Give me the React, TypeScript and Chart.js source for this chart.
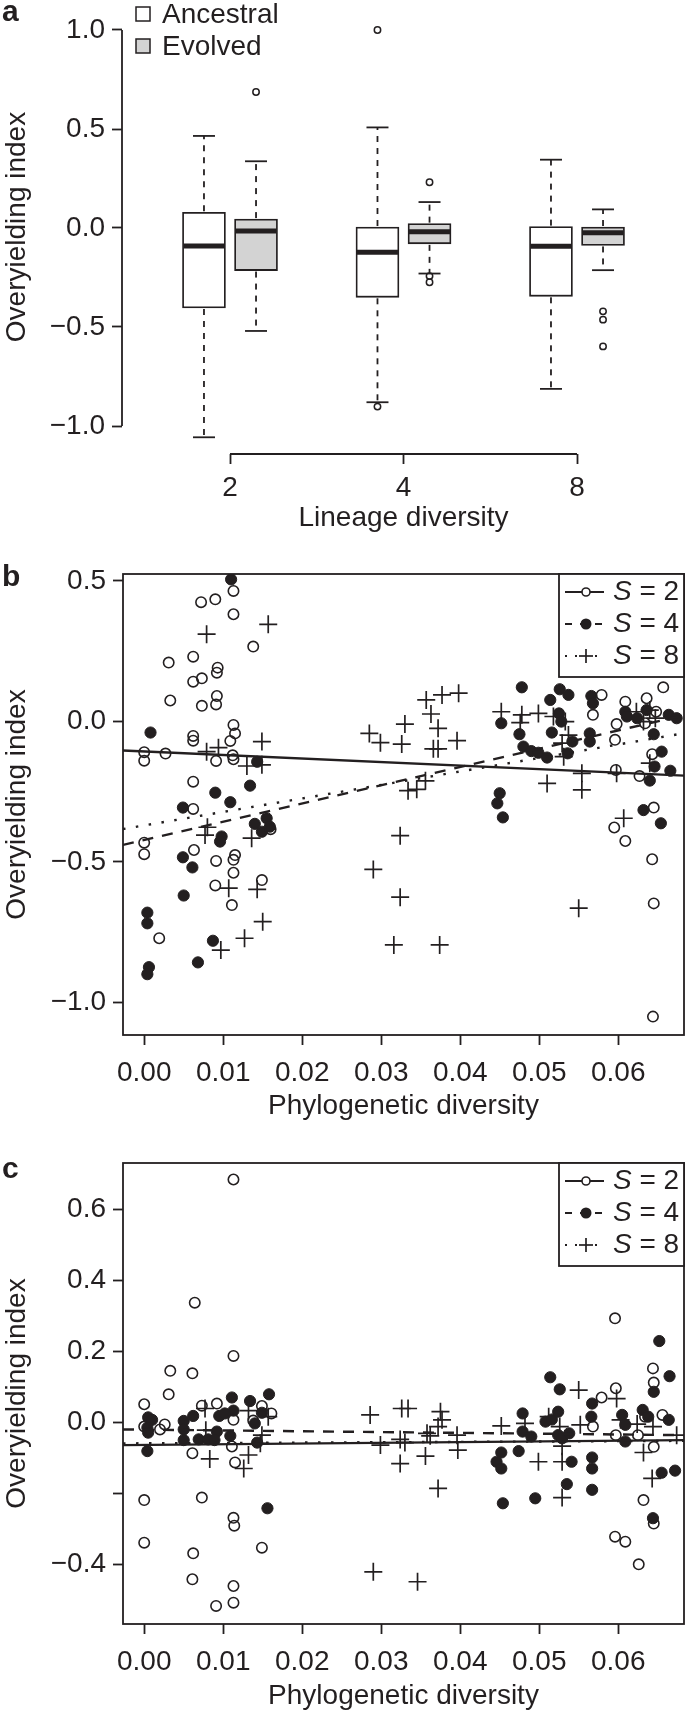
import React, { useEffect, useRef } from "react";
import { Chart, registerables } from "chart.js";

Chart.register(...registerables);

const FONT_FAMILY = '"Liberation Sans", Arial, Helvetica, sans-serif';
const INK = "#231f20";
const EVOLVED_FILL = "#d3d3d3";
const W = 685;

// ---------------- Panel a : box plots ----------------
const lineageLabels = ["2", "4", "8"];
const seriesNames = ["Ancestral", "Evolved"];
const ancestralWhiskerLow = [-1.057, -0.88, -0.8125];
const ancestralQ1 = [-0.404, -0.35, -0.345];
const ancestralMedian = [-0.091, -0.122, -0.092];
const ancestralQ3 = [0.079, 0.005, 0.007];
const ancestralWhiskerHigh = [0.465, 0.508, 0.345];
const ancestralOutliers = [[], [1.0, -0.902], []];
const evolvedWhiskerLow = [-0.52, -0.23, -0.213];
const evolvedQ1 = [-0.215, -0.08, -0.088];
const evolvedMedian = [-0.015, -0.019, -0.024];
const evolvedQ3 = [0.045, 0.022, 0.005];
const evolvedWhiskerHigh = [0.337, 0.131, 0.094];
const evolvedOutliers = [[0.687], [0.231, -0.243, -0.274], [-0.421, -0.463, -0.598]];
const aYTicks = [-1, -0.5, 0, 0.5, 1];
const aYTickLabels = ["\u22121.0", "\u22120.5", "0.0", "0.5", "1.0"];

// ---------------- Panel b : phylogenetic diversity (ancestral) ----------------
const pdTicks = [0, 0.01, 0.02, 0.03, 0.04, 0.05, 0.06];
const pdTickLabels = ["0.00", "0.01", "0.02", "0.03", "0.04", "0.05", "0.06"];
const richnessLabels = ["2", "4", "8"];

const bS2 = [
  [0.0072, 0.424], [0.009, 0.434], [0.0113, 0.464], [0.0113, 0.381], [0.0138, 0.266], [0.0031, 0.209],
  [0.0062, 0.23], [0.0093, 0.191], [0.0092, 0.173], [0.0073, 0.153], [0.0062, 0.141], [0.0033, 0.074],
  [0.0092, 0.09], [0.0073, 0.055], [0.0091, 0.06], [0.0113, -0.013], [0.0115, -0.043], [0.0062, -0.052],
  [0.0062, -0.069], [0.0109, -0.07], [0.0, -0.11], [0.0, -0.14], [0.0027, -0.115], [0.0091, -0.141],
  [0.0112, -0.121], [0.0113, -0.135], [0.0062, -0.215], [0.0062, -0.312], [0.0, -0.432], [0.0, -0.473],
  [0.0063, -0.458], [0.0091, -0.497], [0.0115, -0.476], [0.0113, -0.493], [0.0113, -0.539], [0.009, -0.584],
  [0.0149, -0.565], [0.0111, -0.654], [0.0019, -0.772], [0.016, -0.384],
  [0.0657, 0.121], [0.0579, 0.094], [0.0568, 0.023], [0.0609, 0.07], [0.0636, 0.082], [0.0598, -0.01],
  [0.0596, -0.066], [0.0634, -0.007], [0.0648, 0.034], [0.0643, -0.117], [0.0597, -0.173], [0.0627, -0.195],
  [0.0645, -0.307], [0.0595, -0.378], [0.0609, -0.426], [0.0643, -0.491], [0.0645, -0.648], [0.0644, -1.051],
];
const bS4 = [
  [0.011, 0.505], [0.0008, -0.04], [0.0143, -0.144], [0.0134, -0.229], [0.009, -0.254], [0.0109, -0.288],
  [0.0049, -0.307], [0.014, -0.365], [0.0155, -0.345], [0.0149, -0.393], [0.0159, -0.375], [0.0098, -0.41],
  [0.0096, -0.428], [0.0049, -0.484], [0.0061, -0.52], [0.005, -0.62], [0.0004, -0.681], [0.0004, -0.719],
  [0.0087, -0.781], [0.0068, -0.858], [0.0006, -0.875], [0.0004, -0.9],
  [0.0478, 0.121], [0.0452, -0.007], [0.0475, -0.046], [0.048, -0.09], [0.049, -0.106], [0.0499, -0.112],
  [0.051, -0.129], [0.0514, 0.076], [0.0526, 0.114], [0.0537, 0.094], [0.0525, 0.028], [0.0528, -0.001],
  [0.0516, -0.04], [0.0536, -0.114], [0.0542, -0.072], [0.0566, 0.09], [0.0568, 0.064], [0.0564, -0.043],
  [0.0564, -0.072], [0.0609, 0.034], [0.0611, 0.017], [0.0624, 0.011], [0.0636, 0.04], [0.0645, -0.046],
  [0.0655, -0.108], [0.0664, 0.023], [0.0674, 0.011], [0.0646, -0.161], [0.0666, -0.176], [0.064, -0.211],
  [0.0632, -0.316], [0.0654, -0.363], [0.045, -0.256], [0.0447, -0.292], [0.0454, -0.342],
];
const bS8 = [
  [0.0079, 0.31], [0.0157, 0.345], [0.0094, -0.094], [0.0079, -0.108], [0.0149, -0.072], [0.013, -0.159],
  [0.0149, -0.155], [0.008, -0.377], [0.0077, -0.405], [0.0136, -0.416], [0.0107, -0.594], [0.0143, -0.598],
  [0.015, -0.713], [0.0127, -0.772], [0.0097, -0.814],
  [0.0285, -0.043], [0.0299, -0.076], [0.0326, -0.081], [0.033, -0.01], [0.0357, 0.076], [0.0377, 0.094],
  [0.0398, 0.1], [0.0363, 0.026], [0.0372, -0.025], [0.0396, -0.069], [0.0366, -0.098], [0.0372, -0.098],
  [0.0334, -0.247], [0.0345, -0.242], [0.0356, -0.212], [0.0324, -0.407], [0.029, -0.527], [0.0324, -0.626],
  [0.0316, -0.796], [0.0374, -0.796],
  [0.0452, 0.034], [0.0478, 0.023], [0.0476, -0.005], [0.0499, 0.028], [0.0518, 0.017], [0.0533, -0.001],
  [0.0537, -0.049], [0.0529, -0.078], [0.0531, -0.126], [0.051, -0.221], [0.0554, -0.185], [0.0554, -0.244],
  [0.0598, -0.185], [0.0607, -0.345], [0.055, -0.665], [0.0623, 0.034], [0.064, 0.04], [0.0647, 0.011],
  [0.064, -0.149], [0.0632, -0.001],
];
const bFitIntercept = [-0.1074, -0.4225, -0.3705];
const bFitSlope = [-1.26, 6.5, 4.8];
const bYTicks = [-1, -0.5, 0, 0.5];
const bYTickLabels = ["\u22121.0", "\u22120.5", "0.0", "0.5"];

// ---------------- Panel c : phylogenetic diversity (evolved) ----------------
const cS2 = [
  [0.0113, 0.685], [0.0064, 0.338], [0.0113, 0.188], [0.0033, 0.146], [0.0061, 0.139], [0.0031, 0.08],
  [0.0, 0.052], [0.0073, 0.048], [0.0092, 0.054], [0.0149, 0.047], [0.0161, 0.026], [0.0026, -0.005],
  [0.002, -0.019], [0.0, -0.011], [0.0113, 0.008], [0.0138, 0.006], [0.0111, -0.067], [0.0061, -0.086],
  [0.0115, -0.112], [0.0073, -0.211], [0.0, -0.218], [0.0113, -0.268], [0.0114, -0.29], [0.0, -0.338],
  [0.0149, -0.352], [0.0062, -0.368], [0.0061, -0.441], [0.0113, -0.46], [0.0091, -0.516], [0.0113, -0.507],
  [0.0596, 0.294], [0.0597, 0.097], [0.0644, 0.153], [0.0645, 0.113], [0.0579, 0.071], [0.0568, -0.011],
  [0.0597, -0.035], [0.0625, -0.035], [0.0656, 0.022], [0.0634, 0.017], [0.0645, -0.068], [0.0632, -0.218],
  [0.0645, -0.284], [0.0596, -0.321], [0.0609, -0.335], [0.0626, -0.399],
];
const cS4 = [
  [0.0005, 0.015], [0.001, 0.008], [0.0004, -0.014], [0.0005, -0.028], [0.0004, -0.08], [0.005, 0.005],
  [0.0062, 0.019], [0.005, -0.019], [0.005, -0.049], [0.0069, -0.047], [0.0081, -0.047], [0.0092, -0.025],
  [0.0095, 0.019], [0.0089, -0.049], [0.0111, 0.071], [0.0113, 0.034], [0.0109, -0.037], [0.0102, 0.026],
  [0.0134, 0.061], [0.0158, 0.08], [0.0149, 0.028], [0.014, -0.002], [0.0143, -0.056], [0.0156, -0.241],
  [0.0452, -0.084], [0.0446, -0.11], [0.0452, -0.129], [0.0454, -0.227], [0.0474, -0.08], [0.0479, 0.026],
  [0.0479, -0.025], [0.049, -0.039], [0.0495, -0.213], [0.0514, 0.128], [0.0526, 0.094], [0.0508, 0.003],
  [0.0516, 0.009], [0.0524, 0.031], [0.0524, -0.035], [0.0529, -0.044], [0.0538, -0.03], [0.0541, -0.11],
  [0.0535, -0.173], [0.0567, 0.054], [0.0566, 0.017], [0.0567, -0.098], [0.0567, -0.129], [0.0567, -0.189],
  [0.0605, 0.022], [0.0609, -0.006], [0.0609, -0.053], [0.0631, 0.036], [0.0638, 0.017], [0.0645, 0.087],
  [0.0652, 0.23], [0.0665, 0.131], [0.0664, 0.008], [0.0655, -0.141], [0.0672, -0.135], [0.0644, -0.269],
];
const cS8 = [
  [0.0077, 0.04], [0.0078, -0.021], [0.0083, -0.102], [0.0132, 0.034], [0.0149, -0.035], [0.0132, -0.091],
  [0.0126, -0.129], [0.0157, 0.017], [0.0147, -0.058],
  [0.0286, 0.022], [0.0326, 0.04], [0.0334, 0.04], [0.0299, -0.063], [0.0324, -0.047], [0.033, -0.056],
  [0.0324, -0.115], [0.0356, -0.094], [0.0362, -0.037], [0.0358, -0.03], [0.0372, -0.011], [0.0375, 0.031],
  [0.0377, 0.008], [0.0396, -0.035], [0.0397, -0.077], [0.0372, -0.185], [0.029, -0.42], [0.0346, -0.448],
  [0.0452, -0.009], [0.0482, -0.002], [0.0512, 0.017], [0.055, 0.092], [0.0552, -0.006], [0.0526, -0.011],
  [0.0499, -0.11], [0.0529, -0.066], [0.0529, -0.11], [0.0529, -0.211], [0.0598, 0.068], [0.0603, 0.008],
  [0.0624, -0.004], [0.0632, -0.084], [0.0644, -0.011], [0.0643, -0.157], [0.0674, -0.035],
];
const cFitIntercept = [-0.0625, -0.0196, -0.058];
const cFitSlope = [0.198, -0.226, 0.1];
const cYTicks = [-0.4, -0.2, 0, 0.2, 0.4, 0.6];
const cYTickLabels = ["\u22120.4", "", "0.0", "0.2", "0.4", "0.6"];

// ---------------- shared styling ----------------
const tickFont = { family: FONT_FAMILY, size: 28, lineHeight: 1.2 };
const BOX_OFFSET = 0.15;
const BOX_WIDTH = 43;
const CAP_WIDTH = 22;
const LINE_DASHES = [[], [11, 9], [2.5, 10.5]];

Chart.defaults.font.family = FONT_FAMILY;
Chart.defaults.color = INK;

function line(ctx: CanvasRenderingContext2D, x1: number, y1: number, x2: number, y2: number) {
  ctx.beginPath();
  ctx.moveTo(x1, y1);
  ctx.lineTo(x2, y2);
  ctx.stroke();
}

function drawLetter(ctx: CanvasRenderingContext2D, letter: string, baseline: number) {
  ctx.save();
  ctx.fillStyle = INK;
  ctx.font = `bold 30px ${FONT_FAMILY}`;
  ctx.textAlign = "left";
  ctx.textBaseline = "alphabetic";
  ctx.fillText(letter, 2, baseline);
  ctx.restore();
}

// ---------------- Panel a config ----------------
function buildPanelA(): any {
  const H = 540;
  const chartBottom = 454;
  const boxes = [
    { name: seriesNames[0], off: -BOX_OFFSET, fill: "#ffffff", lo: ancestralWhiskerLow, q1: ancestralQ1, med: ancestralMedian, q3: ancestralQ3, hi: ancestralWhiskerHigh, out: ancestralOutliers },
    { name: seriesNames[1], off: BOX_OFFSET, fill: EVOLVED_FILL, lo: evolvedWhiskerLow, q1: evolvedQ1, med: evolvedMedian, q3: evolvedQ3, hi: evolvedWhiskerHigh, out: evolvedOutliers },
  ];
  const outlierPoints: any[] = [];
  boxes.forEach((b) => b.out.forEach((vals, i) => vals.forEach((v) => outlierPoints.push({ x: i + 1 + b.off, y: v }))));

  const extras = {
    id: "boxExtras",
    afterDatasetsDraw(chart: any) {
      const { ctx, scales } = chart;
      const xs = scales.x;
      const ys = scales.y;
      ctx.save();
      ctx.strokeStyle = INK;
      boxes.forEach((b) => {
        lineageLabels.forEach((_, i) => {
          const cx = xs.getPixelForValue(i + 1 + b.off);
          const yHi = ys.getPixelForValue(b.hi[i]);
          const yLo = ys.getPixelForValue(b.lo[i]);
          const yQ1 = ys.getPixelForValue(b.q1[i]);
          const yQ3 = ys.getPixelForValue(b.q3[i]);
          const yMed = ys.getPixelForValue(b.med[i]);
          ctx.lineWidth = 1.8;
          ctx.setLineDash([6, 6]);
          line(ctx, cx, yQ3 - 1, cx, yHi);
          line(ctx, cx, yQ1 + 1, cx, yLo);
          ctx.setLineDash([]);
          line(ctx, cx - CAP_WIDTH / 2, yHi, cx + CAP_WIDTH / 2, yHi);
          line(ctx, cx - CAP_WIDTH / 2, yLo, cx + CAP_WIDTH / 2, yLo);
          ctx.lineWidth = 5;
          ctx.lineCap = "butt";
          line(ctx, cx - BOX_WIDTH / 2 + 1, yMed, cx + BOX_WIDTH / 2 - 1, yMed);
        });
      });
      ctx.restore();
    },
    afterDraw(chart: any) {
      const { ctx, chartArea, scales } = chart;
      const xs = scales.x;
      const ys = scales.y;
      ctx.save();
      ctx.strokeStyle = INK;
      ctx.lineWidth = 1.8;
      // R-style axis lines spanning the tick range only
      line(ctx, chartArea.left, ys.getPixelForValue(aYTicks[aYTicks.length - 1]), chartArea.left, ys.getPixelForValue(aYTicks[0]));
      line(ctx, xs.getPixelForValue(1), chartArea.bottom, xs.getPixelForValue(lineageLabels.length), chartArea.bottom);
      // legend
      ctx.font = `28px ${FONT_FAMILY}`;
      ctx.textBaseline = "middle";
      ctx.textAlign = "left";
      boxes.forEach((b, k) => {
        const cy = 14 + k * 32;
        ctx.fillStyle = b.fill;
        ctx.fillRect(136, cy - 7, 14, 14);
        ctx.lineWidth = 1.5;
        ctx.strokeRect(136, cy - 7, 14, 14);
        ctx.fillStyle = INK;
        ctx.fillText(b.name, 162, cy + 1);
      });
      ctx.restore();
      drawLetter(ctx, "a", 21);
    },
  };

  return {
    type: "bar",
    data: {
      datasets: [
        ...boxes.map((b) => ({
          type: "bar",
          label: b.name,
          data: lineageLabels.map((_, i) => ({ x: i + 1 + b.off, y: [b.q1[i], b.q3[i]] })),
          backgroundColor: b.fill,
          borderColor: INK,
          borderWidth: 1.8,
          borderSkipped: false,
          grouped: false,
          maxBarThickness: BOX_WIDTH,
          barPercentage: 1,
          categoryPercentage: 1,
        })),
        {
          type: "scatter",
          label: "outliers",
          data: outlierPoints,
          pointRadius: 3.2,
          pointBorderWidth: 1.5,
          pointBorderColor: INK,
          pointBackgroundColor: "rgba(0,0,0,0)",
        },
      ],
    },
    options: {
      animation: false,
      responsive: false,
      events: [],
      layout: { padding: { top: 0, left: 0, right: 0, bottom: 0 }, autoPadding: false },
      plugins: { legend: { display: false }, tooltip: { enabled: false } },
      scales: {
        x: {
          type: "linear",
          offset: false,
          min: 0.3775,
          max: 0.3775 + (W - 122) / 173.5,
          bounds: "data",
          afterBuildTicks: (s: any) => { s.ticks = lineageLabels.map((_, i) => ({ value: i + 1 })); },
          ticks: { autoSkip: false, maxRotation: 0, font: tickFont, color: INK, padding: 7, callback: (_v: any, i: number) => lineageLabels[i] },
          grid: { offset: false, drawOnChartArea: false, drawTicks: true, tickLength: 10, tickColor: INK, tickWidth: 1.8, color: INK },
          border: { display: false },
          title: { display: true, text: "Lineage diversity", font: tickFont, color: INK, padding: { top: 0, bottom: 5 } },
          afterFit: (s: any) => { s.height = H - chartBottom; s.paddingLeft = 0; s.paddingRight = 0; },
        },
        y: {
          type: "linear",
          min: -1 - 28 / 198,
          max: -1 - 28 / 198 + chartBottom / 198,
          bounds: "data",
          afterBuildTicks: (s: any) => { s.ticks = aYTicks.map((v) => ({ value: v })); },
          ticks: { autoSkip: false, font: tickFont, color: INK, padding: 7, callback: (_v: any, i: number) => aYTickLabels[i] },
          grid: { drawOnChartArea: false, drawTicks: true, tickLength: 10, tickColor: INK, tickWidth: 1.8, color: INK },
          border: { display: false },
          title: { display: true, text: "Overyielding index", font: tickFont, color: INK, padding: { top: 0, bottom: 0 } },
          afterFit: (s: any) => { s.width = 122; s.paddingTop = 0; s.paddingBottom = 0; },
        },
      },
    },
    plugins: [extras],
  };
}

// ---------------- Panels b / c config ----------------
function buildScatter(p: {
  H: number; padTop: number; chartBottom: number; titlePadBottom: number;
  s2: number[][]; s4: number[][]; s8: number[][];
  intercept: number[]; slope: number[];
  yMin: number; yMax: number; yTicks: number[]; yTickLabels: string[];
  letter: string; letterBaseline: number;
}): any {
  const xMin = (123 - 144.2) / 7900;
  const xMax = (684 - 144.2) / 7900;
  const pointSets = [p.s2, p.s4, p.s8];
  const fitLines = richnessLabels.map((_, k) => ({
    type: "line",
    label: `fit S=${richnessLabels[k]}`,
    data: [xMin, xMax].map((x) => ({ x, y: p.intercept[k] + p.slope[k] * x })),
    borderColor: INK,
    borderWidth: 2.4,
    borderDash: LINE_DASHES[k],
    borderCapStyle: "butt",
    pointRadius: 0,
    fill: false,
    tension: 0,
  }));
  const pointStyles = [
    { pointStyle: "circle", pointRadius: 5.2, pointBorderWidth: 1.6, pointBackgroundColor: "rgba(0,0,0,0)" },
    { pointStyle: "circle", pointRadius: 5.6, pointBorderWidth: 1, pointBackgroundColor: INK },
    { pointStyle: "cross", pointRadius: 9, pointBorderWidth: 1.7, pointBackgroundColor: INK },
  ];
  const scatterSets = pointSets.map((set, k) => ({
    type: "scatter",
    label: `S = ${richnessLabels[k]}`,
    data: set.map(([x, y]) => ({ x, y })),
    pointBorderColor: INK,
    showLine: false,
    ...pointStyles[k],
  }));

  const frameLegend = {
    id: "frameLegend",
    afterDraw(chart: any) {
      const { ctx, chartArea } = chart;
      ctx.save();
      ctx.strokeStyle = INK;
      ctx.lineWidth = 1.8;
      ctx.strokeRect(chartArea.left, chartArea.top, chartArea.right - chartArea.left, chartArea.bottom - chartArea.top);
      // legend box
      const left = 559;
      const top = chartArea.top;
      const right = chartArea.right;
      const h = 103;
      ctx.fillStyle = "#ffffff";
      ctx.fillRect(left, top, right - left, h);
      ctx.strokeRect(left, top, right - left, h);
      richnessLabels.forEach((lab, k) => {
        const cy = top + 18 + k * 32;
        ctx.lineWidth = 1.8;
        ctx.setLineDash(k === 0 ? [] : k === 1 ? [7, 8] : [2, 8]);
        ctx.lineDashOffset = k === 1 ? 0 : 0;
        line(ctx, 565, cy, 604, cy);
        ctx.setLineDash([]);
        const mx = 586;
        if (k === 0) {
          ctx.fillStyle = "#ffffff";
          ctx.beginPath();
          ctx.arc(mx, cy, 4, 0, Math.PI * 2);
          ctx.fill();
          ctx.lineWidth = 1.6;
          ctx.stroke();
        } else if (k === 1) {
          ctx.fillStyle = INK;
          ctx.beginPath();
          ctx.arc(mx, cy, 5.5, 0, Math.PI * 2);
          ctx.fill();
        } else {
          ctx.fillStyle = "#ffffff";
          ctx.fillRect(mx - 7, cy - 1.5, 14, 3);
          ctx.lineWidth = 1.7;
          line(ctx, mx - 7, cy, mx + 7, cy);
          line(ctx, mx, cy - 7, mx, cy + 7);
        }
        ctx.fillStyle = INK;
        ctx.textBaseline = "middle";
        ctx.textAlign = "left";
        ctx.font = `italic 28px ${FONT_FAMILY}`;
        ctx.fillText("S", 613, cy);
        const sw = ctx.measureText("S").width;
        ctx.font = `28px ${FONT_FAMILY}`;
        ctx.fillText(` = ${lab}`, 613 + sw, cy);
      });
      ctx.restore();
      drawLetter(ctx, p.letter, p.letterBaseline);
    },
  };

  return {
    type: "scatter",
    data: { datasets: [...fitLines, ...scatterSets] },
    options: {
      animation: false,
      responsive: false,
      events: [],
      layout: { padding: { top: p.padTop, left: 0, right: W - 684, bottom: 0 }, autoPadding: false },
      plugins: { legend: { display: false }, tooltip: { enabled: false } },
      scales: {
        x: {
          type: "linear",
          min: xMin,
          max: xMax,
          bounds: "data",
          afterBuildTicks: (s: any) => { s.ticks = pdTicks.map((v) => ({ value: v })); },
          ticks: { autoSkip: false, maxRotation: 0, font: tickFont, color: INK, padding: 11, callback: (_v: any, i: number) => pdTickLabels[i] },
          grid: { drawOnChartArea: false, drawTicks: true, tickLength: 10, tickColor: INK, tickWidth: 1.8, color: INK },
          border: { display: false },
          title: { display: true, text: "Phylogenetic diversity", font: tickFont, color: INK, padding: { top: 0, bottom: p.titlePadBottom } },
          afterFit: (s: any) => { s.height = p.H - p.chartBottom; s.paddingLeft = 0; s.paddingRight = 0; },
        },
        y: {
          type: "linear",
          min: p.yMin,
          max: p.yMax,
          bounds: "data",
          afterBuildTicks: (s: any) => { s.ticks = p.yTicks.map((v) => ({ value: v })); },
          ticks: { autoSkip: false, font: tickFont, color: INK, padding: 7, callback: (_v: any, i: number) => p.yTickLabels[i] },
          grid: { drawOnChartArea: false, drawTicks: true, tickLength: 10, tickColor: INK, tickWidth: 1.8, color: INK },
          border: { display: false },
          title: { display: true, text: "Overyielding index", font: tickFont, color: INK, padding: { top: 0, bottom: 0 } },
          afterFit: (s: any) => { s.width = 123; s.paddingTop = 0; s.paddingBottom = 0; },
        },
      },
    },
    plugins: [frameLegend],
  };
}

function ChartCanvas({ top, height, build }: { top: number; height: number; build: () => any }) {
  const ref = useRef<HTMLCanvasElement | null>(null);
  useEffect(() => {
    if (!ref.current) return;
    const chart = new Chart(ref.current, build());
    return () => chart.destroy();
  }, []);
  return (
    <canvas
      ref={ref}
      width={W}
      height={height}
      style={{ position: "absolute", left: 0, top, width: W, height, display: "block" }}
    />
  );
}

export default function App() {
  return (
    <div style={{ position: "absolute", left: 0, top: 0, width: W, height: 1713, background: "#ffffff", overflow: "hidden" }}>
      <ChartCanvas top={0} height={540} build={buildPanelA} />
      <ChartCanvas
        top={540}
        height={590}
        build={() =>
          buildScatter({
            H: 590, padTop: 34, chartBottom: 495, titlePadBottom: 7,
            s2: bS2, s4: bS4, s8: bS8, intercept: bFitIntercept, slope: bFitSlope,
            yMin: -1.1164, yMax: 0.5242, yTicks: bYTicks, yTickLabels: bYTickLabels,
            letter: "b", letterBaseline: 46,
          })
        }
      />
      <ChartCanvas
        top={1130}
        height={583}
        build={() =>
          buildScatter({
            H: 583, padTop: 33, chartBottom: 494, titlePadBottom: 0,
            s2: cS2, s4: cS4, s8: cS8, intercept: cFitIntercept, slope: cFitSlope,
            yMin: -0.567, yMax: 0.7315, yTicks: cYTicks, yTickLabels: cYTickLabels,
            letter: "c", letterBaseline: 48,
          })
        }
      />
    </div>
  );
}
